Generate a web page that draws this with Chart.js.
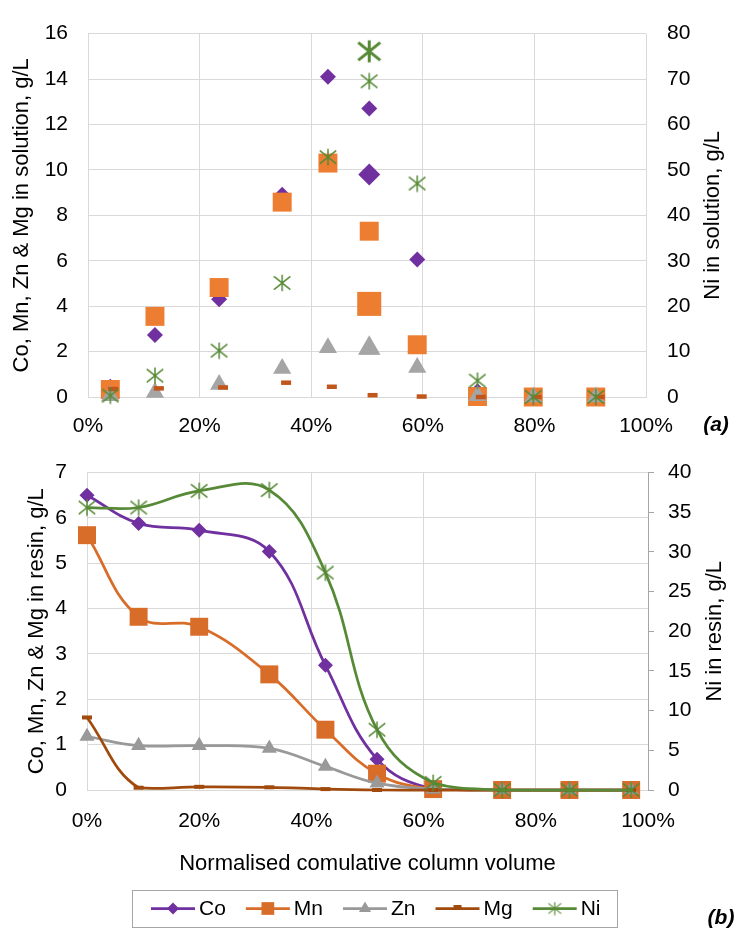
<!DOCTYPE html>
<html>
<head>
<meta charset="utf-8">
<script src="https://cdn.jsdelivr.net/npm/chart.js@4.4.1/dist/chart.umd.min.js"></script>
<style>
  html, body { margin: 0; padding: 0; background: #fff; }
  #wrap { position: relative; width: 740px; height: 931px; }
  canvas { position: absolute; left: 0; }
  #chartA { top: 0; }
  #chartB { top: 440px; }
</style>
</head>
<body>
<div id="wrap">
  <canvas id="chartA" width="740" height="440"></canvas>
  <canvas id="chartB" width="740" height="491"></canvas>
</div>
<script>
// (a) metals in solution, normalised cumulative column volume in %
const solX = [4, 12, 23.5, 34.8, 43, 50.4, 50.4, 59, 69.8, 79.8, 91];
const solCo = [0.45, 2.73, 4.3, 8.9, 14.1, 12.7, 9.8, 6.05, 0.25, 0, 0];
const solMn = [0.33, 3.55, 4.82, 8.58, 10.3, 7.3, 4.1, 2.3, 0.02, 0, 0];
const solZn = [0.05, 0.2, 0.55, 1.25, 2.17, 2.1, 2.15, 1.3, 0.05, 0, 0];
const solNi = [0.3, 4.7, 10.2, 25.1, 52.8, 69.5, 76.1, 47, 3.6, 0, 0];
const solMgX = [4.5, 12.7, 24.2, 35.5, 43.7, 51, 59.8, 70.4, 80.4, 91.7];
const solMg = [0.35, 0.38, 0.42, 0.63, 0.45, 0.08, 0.02, 0, 0, 0];
// the feed sample is plotted with bigger markers
const FEED_INDEX = 6;

// (b) metals loaded on the resin
const resinX = [0, 9.2, 20, 32.5, 42.5, 51.7, 61.7, 74, 86, 97];
const resinCo = [6.5, 5.88, 5.73, 5.26, 2.75, 0.68, 0.02, 0, 0, 0];
const resinMn = [5.62, 3.82, 3.6, 2.55, 1.33, 0.36, 0.02, 0, 0, 0];
const resinZn = [1.18, 0.98, 0.98, 0.92, 0.52, 0.15, 0.02, 0, 0, 0];
const resinMg = [1.6, 0.05, 0.07, 0.06, 0.02, 0, 0, 0, 0, 0];
const resinNi = [35.6, 35.6, 37.7, 37.8, 27.4, 7.6, 0.9, 0, 0, 0];

const FONT = "'Liberation Sans', Arial, sans-serif";
const GRID = "#D9D9D9";

Chart.defaults.font.family = FONT;
Chart.defaults.font.size = 21;
Chart.defaults.color = "#000";
Chart.defaults.animation = false;
Chart.defaults.events = [];

function pairs(xs, ys) {
    return ys.map((y, i) => ({ x: xs[i], y }));
}

// Excel style asterisk: vertical bar plus an X
const starCache = new Map();
function asterisk(size, width, color) {
    const key = size + "|" + width + "|" + color;
    if (starCache.has(key))
        return starCache.get(key);
    const c = document.createElement("canvas");
    c.width = c.height = size;
    const g = c.getContext("2d");
    const m = size / 2;
    const r = m - width / 2;
    g.strokeStyle = color;
    g.lineWidth = width;
    g.beginPath();
    g.moveTo(m, m - r); g.lineTo(m, m + r);
    g.moveTo(m - r, m - r * 0.8); g.lineTo(m + r, m + r * 0.8);
    g.moveTo(m - r, m + r * 0.8); g.lineTo(m + r, m - r * 0.8);
    g.stroke();
    starCache.set(key, c);
    return c;
}

const big = (normal, large) => (ctx) => ctx.dataIndex === FEED_INDEX ? large : normal;

// panel letter and right-hand axis title (Excel writes it bottom-to-top)
const tag = {
    id: "tag",
    afterDraw(chart, args, opts) {
        const ctx = chart.ctx;
        const area = chart.chartArea;
        ctx.save();
        ctx.fillStyle = "#000";
        ctx.textAlign = "center";
        ctx.textBaseline = "middle";
        ctx.font = `italic bold 21px ${FONT}`;
        ctx.fillText(opts.text, opts.x, opts.y);
        ctx.font = `22px ${FONT}`;
        ctx.translate(opts.sideX, (area.top + area.bottom) / 2);
        ctx.rotate(-Math.PI / 2);
        ctx.fillText(opts.side, 0, 0);
        ctx.restore();
    },
};

const legendBox = {
    id: "legendBox",
    afterDraw(chart, args, opts) {
        const ctx = chart.ctx;
        ctx.save();
        ctx.font = `21px ${FONT}`;
        const sets = chart.data.datasets;
        const widths = sets.map((ds) => ctx.measureText(ds.label).width);
        const total = opts.padL + opts.padR
            + widths.reduce((s, w) => s + opts.line + opts.gap + w, 0)
            + opts.spacing * (sets.length - 1);
        let x = Math.round(opts.cx - total / 2);
        const cy = opts.y + opts.h / 2;
        ctx.strokeStyle = "#A6A6A6";
        ctx.lineWidth = 1;
        ctx.strokeRect(x + 0.5, opts.y + 0.5, Math.round(total), opts.h);
        x += opts.padL;
        sets.forEach((ds, i) => {
            const mk = opts.markers[i];
            ctx.strokeStyle = ds.borderColor;
            ctx.lineWidth = ds.borderWidth;
            ctx.beginPath();
            ctx.moveTo(x, cy);
            ctx.lineTo(x + opts.line, cy);
            ctx.stroke();
            ctx.fillStyle = ds.borderColor;
            ctx.strokeStyle = ds.borderColor;
            ctx.lineWidth = mk.bw;
            Chart.helpers.drawPoint(ctx, { pointStyle: mk.style, radius: mk.r, rotation: 0, borderWidth: mk.bw }, x + opts.line / 2, cy + (mk.dy || 0));
            x += opts.line + opts.gap;
            ctx.fillStyle = "#000";
            ctx.textAlign = "left";
            ctx.textBaseline = "middle";
            ctx.fillText(ds.label, x, cy + 1);
            x += widths[i] + opts.spacing;
        });
        ctx.restore();
    },
};

function xAxis(height, pad, title) {
    return {
        type: "linear",
        min: 0,
        max: 100,
        ticks: { stepSize: 20, padding: pad, callback: (v) => v + "%" },
        grid: { color: GRID, drawTicks: false },
        border: { color: GRID },
        title: title,
        afterFit: (s) => { s.height = height; },
    };
}

const COLORS = {
    co: "#7030A0",
    mnA: "#ED7D31",
    mnB: "#D86D2A",
    znA: "#A5A5A5",
    znB: "#999999",
    mgA: "#C0561A",
    mgB: "#A14A0E",
    ni: "#578A36",
};

// ---------- (a) ----------
new Chart(document.getElementById("chartA"), {
    type: "scatter",
    data: {
        datasets: [
            {
                label: "Co", data: pairs(solX, solCo), yAxisID: "y", order: 5,
                pointStyle: "rectRot", pointRadius: big(8, 11),
                backgroundColor: COLORS.co, borderColor: COLORS.co, borderWidth: 0,
            },
            {
                label: "Mn", data: pairs(solX, solMn), yAxisID: "y", order: 4,
                pointStyle: "rect", pointRadius: big(13.4, 17),
                backgroundColor: COLORS.mnA, borderColor: COLORS.mnA, borderWidth: 0,
            },
            {
                label: "Zn", data: pairs(solX, solZn), yAxisID: "y", order: 3,
                pointStyle: "triangle", pointRadius: big(10.5, 13),
                backgroundColor: COLORS.znA, borderColor: COLORS.znA, borderWidth: 0,
            },
            {
                label: "Mg", data: pairs(solMgX, solMg), yAxisID: "y", order: 2,
                pointStyle: "line", pointRadius: 5,
                backgroundColor: COLORS.mgA, borderColor: COLORS.mgA, pointBorderWidth: 4.5,
            },
            {
                label: "Ni", data: pairs(solX, solNi), yAxisID: "y2", order: 1,
                pointStyle: big(asterisk(18, 1.5, COLORS.ni), asterisk(25, 3, COLORS.ni)),
                pointRadius: 8,
                backgroundColor: COLORS.ni, borderColor: COLORS.ni,
            },
        ].map((d) => ({ ...d, clip: false })),
    },
    options: {
        responsive: false,
        layout: { padding: { top: 22, left: 0, right: 0, bottom: 0 } },
        plugins: {
            legend: { display: false },
            tooltip: { enabled: false },
            tag: { text: "(a)", x: 716, y: 425, side: "Ni in solution, g/L", sideX: 713 },
        },
        scales: {
            x: xAxis(43, 17, { display: false }),
            y: {
                position: "left",
                min: 0, max: 16,
                ticks: { stepSize: 2, padding: 20 },
                grid: { color: GRID, drawTicks: false },
                border: { color: GRID },
                title: {
                    display: true, text: "Co, Mn, Zn & Mg in solution, g/L",
                    font: { size: 22 }, padding: { top: 9, bottom: 0 },
                },
                afterFit: (s) => { s.width = 88; },
            },
            y2: {
                position: "right",
                min: 0, max: 80,
                ticks: { stepSize: 10, padding: 21 },
                grid: { display: false, drawTicks: false },
                border: { display: false },
                afterFit: (s) => { s.width = 94; },
            },
        },
    },
    plugins: [tag],
});

// ---------- (b) ----------
function resinSet(label, ys, color, style, radius, axis, order) {
    return {
        label, data: pairs(resinX, ys), yAxisID: axis, order,
        borderColor: color, backgroundColor: color, borderWidth: 2.75,
        tension: 0.4, clip: false,
        pointStyle: style, pointRadius: radius,
        pointBackgroundColor: color, pointBorderColor: color, pointBorderWidth: 0,
    };
}

const mgDash = resinSet("Mg", resinMg, COLORS.mgB, "line", 5, "y", 2);
mgDash.pointBorderWidth = 4;

new Chart(document.getElementById("chartB"), {
    type: "line",
    data: {
        datasets: [
            resinSet("Co", resinCo, COLORS.co, "rectRot", 7.5, "y", 5),
            resinSet("Mn", resinMn, COLORS.mnB, "rect", 12.7, "y", 4),
            resinSet("Zn", resinZn, COLORS.znB, "triangle", 8.7, "y", 3),
            mgDash,
            resinSet("Ni", resinNi, COLORS.ni, asterisk(18, 1.5, COLORS.ni), 8, "y2", 1),
        ],
    },
    options: {
        responsive: false,
        layout: { padding: { top: 24, left: 0, right: 0, bottom: 0 } },
        plugins: {
            legend: { display: false },
            tooltip: { enabled: false },
            tag: { text: "(b)", x: 721, y: 478, side: "Ni in resin, g/L", sideX: 715 },
            legendBox: {
                cx: 374, y: 450, h: 37,
                padL: 19, padR: 16, line: 44, gap: 4, spacing: 20,
                markers: [
                    { style: "rectRot", r: 6, bw: 0 },
                    { style: "rect", r: 9, bw: 0 },
                    { style: "triangle", r: 7, bw: 0 },
                    { style: "line", r: 4, bw: 3, dy: -2 },
                    { style: asterisk(14, 1.2, COLORS.ni), r: 6, bw: 0 },
                ],
            },
        },
        scales: {
            x: xAxis(141, 19, {
                display: true, text: "Normalised comulative column volume",
                font: { size: 22 }, padding: { top: 0, bottom: 54 },
            }),
            y: {
                position: "left",
                min: 0, max: 7,
                ticks: { stepSize: 1, padding: 20 },
                grid: { color: GRID, drawTicks: false },
                border: { color: GRID },
                title: {
                    display: true, text: "Co, Mn, Zn & Mg in resin, g/L",
                    font: { size: 22 }, padding: { top: 24, bottom: 0 },
                },
                afterFit: (s) => { s.width = 87; },
            },
            y2: {
                position: "right",
                min: 0, max: 40,
                ticks: { stepSize: 5, padding: 14 },
                grid: { drawOnChartArea: false, color: "#A6A6A6", tickLength: 6 },
                border: { color: "#A6A6A6" },
                afterFit: (s) => { s.width = 92; },
            },
        },
    },
    plugins: [tag, legendBox],
});
</script>
</body>
</html>
